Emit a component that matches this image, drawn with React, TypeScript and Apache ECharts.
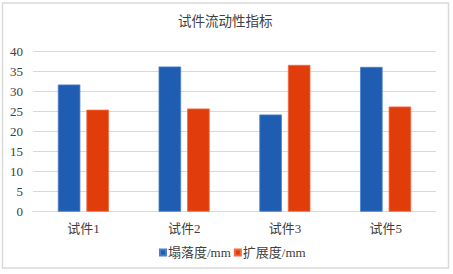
import React, { useEffect, useRef } from "react";
import * as echarts from "echarts";

const title = "试件流动性指标";
const categories = ["试件1", "试件2", "试件3", "试件5"];
const seriesNames = ["塌落度/mm", "扩展度/mm"];
const slump = [31.8, 36.3, 24.3, 36.2];
const spread = [25.5, 25.8, 36.7, 26.3];
const yTicks = { min: 0, max: 40, interval: 5 };

const FONT = "'Liberation Serif', 'Noto Sans CJK SC', serif";

export default function App() {
  const ref = useRef<HTMLDivElement>(null);
  useEffect(() => {
    const chart = echarts.init(ref.current!, null, { renderer: "svg" });
    chart.setOption({
      animation: false,
      backgroundColor: "#ffffff",
      title: {
        text: title,
        left: 173,
        top: 10,
        textStyle: { fontFamily: FONT, fontSize: 13.5, fontWeight: "normal", color: "#404040" },
      },
      legend: {
        data: seriesNames,
        left: 159,
        top: 246,
        padding: 0,
        icon: "rect",
        itemWidth: 6,
        itemHeight: 6,
        itemGap: 3,
        textStyle: { fontFamily: FONT, fontSize: 13, color: "#404040", padding: [0, 0, 0, -3] },
      },
      graphic: [
        {
          type: "rect",
          shape: { x: 2.5, y: 3, width: 446, height: 265 },
          style: { fill: "none", stroke: "#d9d9d9", lineWidth: 1.5 },
          silent: true,
        },
      ],
      grid: { left: 33, right: 17, top: 51.7, bottom: 62.3 },
      xAxis: {
        type: "category",
        data: categories,
        axisLine: { lineStyle: { color: "#d9d9d9" } },
        axisTick: { show: false },
        axisLabel: { fontFamily: FONT, fontSize: 13, color: "#404040", margin: 10 },
      },
      yAxis: {
        type: "value",
        min: yTicks.min,
        max: yTicks.max,
        interval: yTicks.interval,
        axisLine: { show: false },
        axisTick: { show: false },
        splitLine: { lineStyle: { color: "#d9d9d9", width: 1 } },
        axisLabel: { fontFamily: FONT, fontSize: 13, color: "#404040", margin: 10 },
      },
      series: [
        {
          name: seriesNames[0],
          type: "bar",
          data: slump,
          barWidth: 22.5,
          barGap: "27%",
          itemStyle: { color: "#1f5db2", borderColor: "#4a7fca", borderWidth: 0.8 },
        },
        {
          name: seriesNames[1],
          type: "bar",
          data: spread,
          barWidth: 22.5,
          barGap: "27%",
          itemStyle: { color: "#e03d0b", borderColor: "#f06a40", borderWidth: 0.8 },
        },
      ],
    });
    return () => chart.dispose();
  }, []);
  return (
    <div
      ref={ref}
      style={{ position: "absolute", left: 0, top: 0, width: 453, height: 274 }}
    />
  );
}
